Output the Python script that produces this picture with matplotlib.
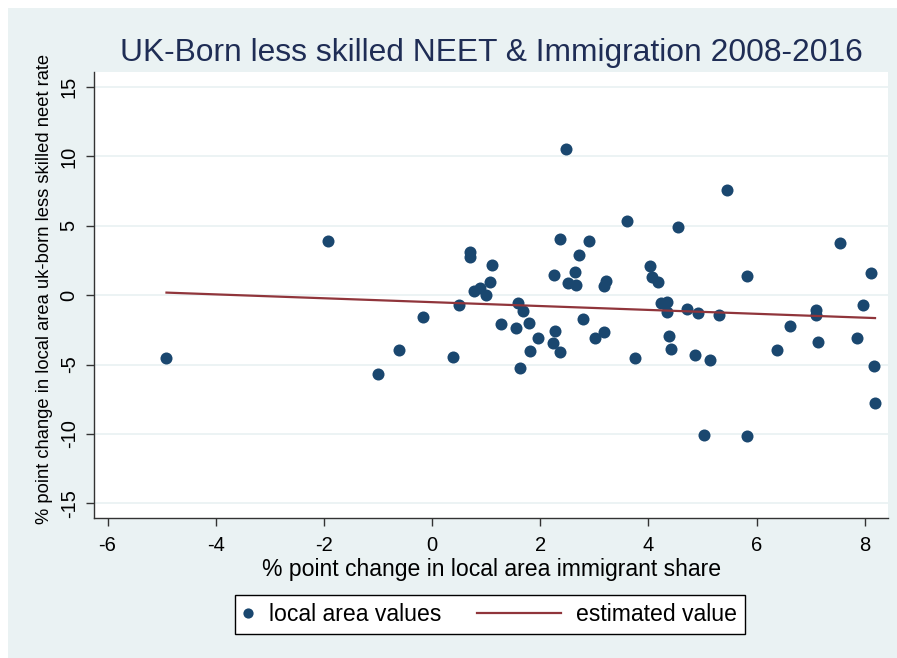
import matplotlib
matplotlib.use("Agg")
import matplotlib.pyplot as plt
import numpy as np
from matplotlib.legend_handler import HandlerPathCollection
from matplotlib.patches import Rectangle

plt.rcParams["font.family"] = ["Liberation Sans", "DejaVu Sans"]
plt.rcParams["axes.unicode_minus"] = False

# change in immigrant share (x) vs change in less skilled NEET rate (y), by local area
x_share = [
    -4.91, -1.92, -0.99, -0.61, -0.16, 0.39, 0.49, 0.70, 0.70, 0.78,
    0.88, 0.99, 1.07, 1.10, 1.27, 1.55, 1.58, 1.63, 1.68, 1.79,
    1.82, 1.96, 2.24, 2.26, 2.27, 2.37, 2.37, 2.47, 2.52, 2.65,
    2.67, 2.72, 2.80, 2.90, 3.01, 3.17, 3.17, 3.22, 3.61, 3.75,
    4.03, 4.07, 4.18, 4.24, 4.35, 4.35, 4.38, 4.41, 4.55, 4.72,
    4.86, 4.92, 5.02, 5.13, 5.30, 5.46, 5.82, 5.83, 6.37, 6.61,
    7.09, 7.09, 7.14, 7.54, 7.85, 7.96, 8.11, 8.17, 8.19,
]
y_neet = [
    -4.49, 3.91, -5.65, -3.97, -1.56, -4.44, -0.68, 3.12, 2.73, 0.29,
    0.50, -0.02, 0.94, 2.18, -2.04, -2.33, -0.55, -5.23, -1.13, -1.97,
    -4.03, -3.07, -3.43, 1.42, -2.59, 4.08, -4.10, 10.50, 0.91, 1.65,
    0.72, 2.88, -1.68, 3.91, -3.07, 0.67, -2.66, 1.01, 5.37, -4.49,
    2.14, 1.32, 0.96, -0.53, -0.48, -1.20, -2.97, -3.88, 4.91, -0.98,
    -4.32, -1.27, -10.07, -4.68, -1.46, 7.55, -10.14, 1.37, -3.96, -2.23,
    -1.08, -1.46, -3.38, 3.79, -3.07, -0.67, 1.63, -5.08, -7.77,
]

# fitted line
fit_intercept = -0.50
fit_slope = -0.14

x_ticks = [-6, -4, -2, 0, 2, 4, 6, 8]
y_ticks = [-15, -10, -5, 0, 5, 10, 15]

NAVY = "#1A476F"
MAROON = "#90353B"
BG = "#EAF2F3"
TITLE_COLOR = "#1F2D55"
W, H = 897, 658


class DotHandler(HandlerPathCollection):
    # short handle box so the dot sits right next to its label
    def legend_artist(self, legend, orig_handle, fontsize, handlebox):
        handlebox.width = 0.5 * fontsize
        return super().legend_artist(legend, orig_handle, fontsize, handlebox)


fig = plt.figure(figsize=(W / 100, H / 100), dpi=100, facecolor="white")
fig.patches.append(Rectangle((8 / W, 0), 1, 1 - 8 / H, transform=fig.transFigure,
                             facecolor=BG, edgecolor="none", zorder=-1))

ax = fig.add_axes([94 / W, 1 - 518 / H, (888 - 94) / W, (518 - 72) / H])
ax.set_facecolor("white")

sc = ax.scatter(x_share, y_neet, s=75, color=NAVY, linewidths=0, zorder=2,
                label="local area values")
xs = np.array([min(x_share), max(x_share)])
ln, = ax.plot(xs, fit_intercept + fit_slope * xs, color=MAROON, lw=1.6, zorder=3,
              label="estimated value")

ax.set_xlim(-6.25, 8.43)
ax.set_ylim(-16.05, 16.08)
ax.set_xticks(x_ticks)
ax.set_yticks(y_ticks)
ax.grid(axis="y", color=BG, lw=1.3)
ax.set_axisbelow(True)

for side in ["top", "right"]:
    ax.spines[side].set_visible(False)
for side in ["left", "bottom"]:
    ax.spines[side].set_color("#333333")
    ax.spines[side].set_linewidth(1.0)

ax.tick_params(length=6, width=1, color="#333333", labelsize=14.5)
ax.tick_params(axis="x", pad=7)
ax.tick_params(axis="y", labelrotation=90, pad=5)
plt.setp(ax.get_yticklabels(), va="center")

fig.text(491 / W, 1 - 61 / H, "UK-Born less skilled NEET & Immigration 2008-2016",
         ha="center", va="baseline", fontsize=22.9, color=TITLE_COLOR)
fig.text(492 / W, 1 - 576 / H, "% point change in local area immigrant share",
         ha="center", va="baseline", fontsize=16.6)
fig.text(45 / W, 1 - 289 / H, "% point change in local area uk-born less skilled neet rate",
         ha="center", va="center", rotation=90, fontsize=13.2)

leg = ax.legend(handles=[sc, ln], loc="center",
                bbox_to_anchor=(490 / W, 1 - 614.5 / H), bbox_transform=fig.transFigure,
                ncol=2, frameon=True, fancybox=False, edgecolor="black", framealpha=1,
                fontsize=16.6, handlelength=3.64, handletextpad=0.65, columnspacing=1.56,
                borderpad=0.35, scatteryoffsets=[0.5], markerscale=0.85,
                handler_map={sc: DotHandler()})
leg.get_frame().set_linewidth(1.0)

fig.savefig("out.png", dpi=100, facecolor=fig.get_facecolor())
